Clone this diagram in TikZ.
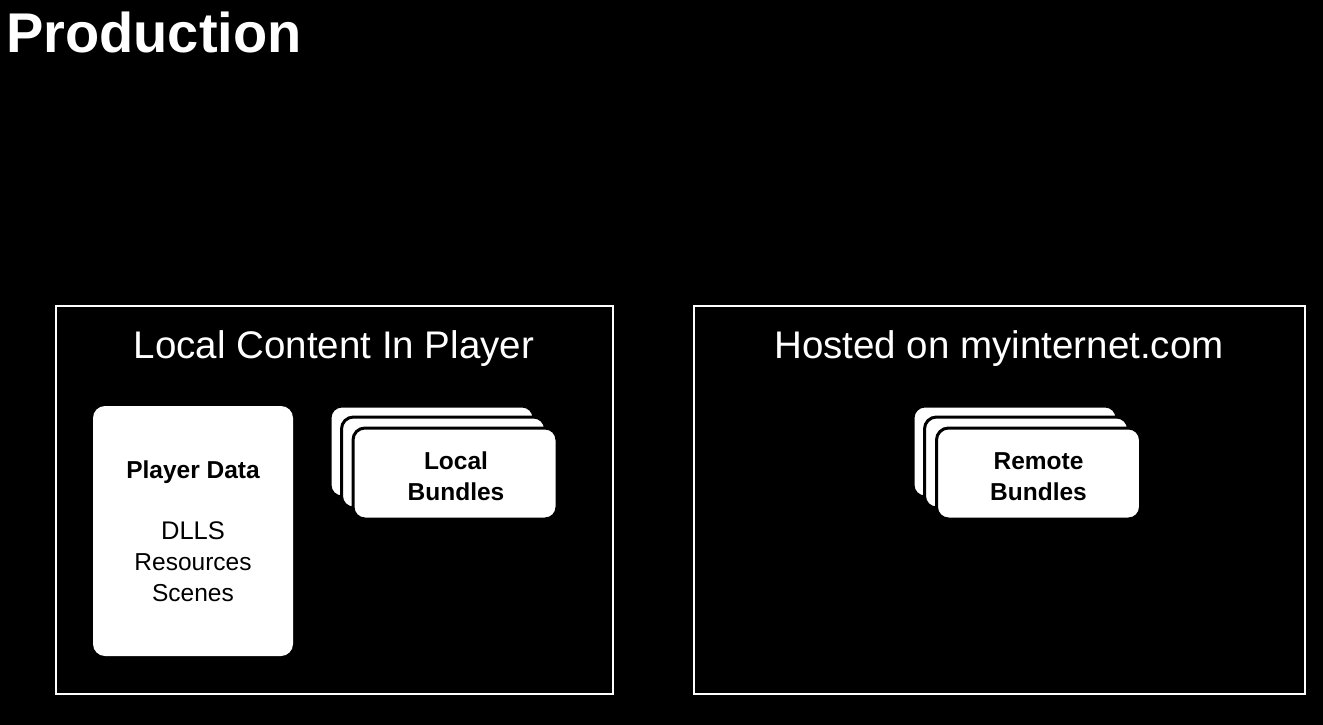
\documentclass[tikz,border=0pt]{standalone}
\usepackage{fontspec}
\setmainfont{Liberation Sans}
\begin{document}
\begin{tikzpicture}[x=1pt,y=-1pt,
  frame/.style={draw=white, line width=2.4pt, inner sep=0pt},
  heading/.style={text=white, inner sep=0pt, font=\fontsize{38.5}{44}\selectfont},
  card/.style={draw=black, line width=3pt, fill=white, rounded corners=12pt,
    minimum width=204pt, minimum height=91pt, inner sep=0pt},
  cardtext/.style={inner sep=0pt, align=center,
    font=\bfseries\fontsize{24.5}{31}\selectfont},
  databox/.style={fill=white, rounded corners=12pt, minimum width=200pt,
    minimum height=250pt, inner sep=0pt, align=center,
    font=\fontsize{24.5}{31}\selectfont}]
\fill[black] (0,0) rectangle (1323,725);
\useasboundingbox (0,0) rectangle (1323,725);

\node[text=white, anchor=base west, inner sep=0pt,
  font=\bfseries\fontsize{56}{60}\selectfont] (title) at (6,53) {Production};

\node[frame, minimum width=557pt, minimum height=388pt] (localframe) at (334.5,500) {};
\node[frame, minimum width=611pt, minimum height=388pt] (remoteframe) at (999.5,500) {};

\node[heading] (localhead) at (334,349) {Local Content In Player};
\node[heading] (remotehead) at (999,349) {Hosted on myinternet.com};

\node[databox] (playerdata) at (193,531)
  {{\bfseries Player Data}\\[30pt]\fontsize{25.5}{31}\selectfont DLLS\\Resources\\Scenes};

\node[card] (localback) at (432,451.5) {};
\node[card] (localmid) at (443.5,462.5) {};
\node[card] (localfront) at (455,473.5) {};
\node[cardtext] (localtext) at (456,476.5) {Local\\Bundles};

\node[card] (remoteback) at (1015,451.5) {};
\node[card] (remotemid) at (1026.5,462.5) {};
\node[card] (remotefront) at (1038.5,473.5) {};
\node[cardtext] (remotetext) at (1038.5,476.5) {Remote\\Bundles};
\end{tikzpicture}
\end{document}
